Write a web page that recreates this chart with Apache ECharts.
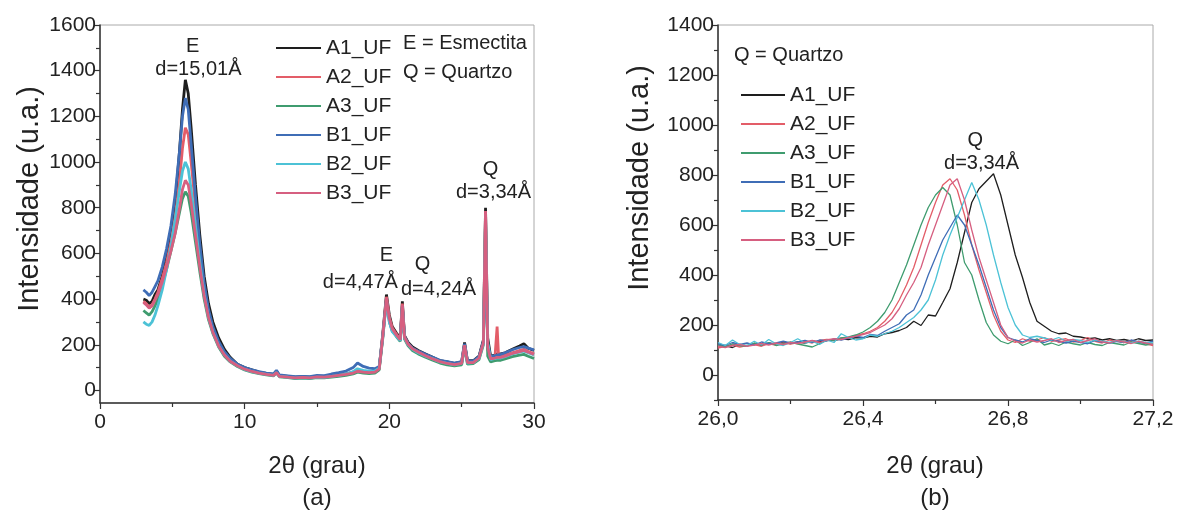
<!DOCTYPE html>
<html>
<head>
<meta charset="utf-8">
<script src="https://cdn.jsdelivr.net/npm/echarts@6/dist/echarts.min.js"></script>
<style>
  html, body { margin: 0; padding: 0; background: #fff; }
  #main { width: 1178px; height: 521px; }
</style>
</head>
<body>
<div id="main"></div>
<script>
// ---------- data (a): full pattern 3-30 grau ----------
var seriesNames = ['A1_UF', 'A2_UF', 'A3_UF', 'B1_UF', 'B2_UF', 'B3_UF'];

var thetaA = [3.0, 3.2, 3.4, 3.6, 3.8, 4.0, 4.3, 4.6, 4.9, 5.2, 5.5, 5.7, 5.9, 6.1, 6.3, 6.6, 6.9, 7.2, 7.5, 7.8,
  8.2, 8.6, 9.0, 9.5, 10.0, 10.5, 11.0, 11.5, 12.0, 12.2, 12.4, 13.0, 13.5, 14.0, 14.5, 15.0, 15.5, 16.0, 16.5, 17.0,
  17.5, 17.8, 18.2, 18.6, 19.0, 19.3, 19.55, 19.8, 20.0, 20.2, 20.5, 20.75, 20.9, 21.05, 21.3, 21.6, 22.0, 22.5, 23.0, 23.5,
  24.0, 24.5, 25.0, 25.2, 25.4, 25.8, 26.2, 26.5, 26.65, 26.8, 27.0, 27.3, 27.45, 27.55, 27.7, 28.0, 28.5, 29.0, 29.3, 29.6, 30.0];

var a1A = [400, 395, 380, 390, 420, 440, 500, 580, 680, 820, 1050, 1230, 1360, 1300, 1150, 900, 680, 500, 380, 300,
  230, 180, 145, 115, 100, 90, 80, 75, 70, 85, 65, 62, 58, 60, 58, 62, 60, 65, 68, 72,
  80, 90, 85, 82, 85, 100, 250, 420, 330, 280, 250, 230, 390, 240, 210, 190, 175, 160, 145, 130,
  125, 118, 125, 210, 130, 130, 150, 220, 800, 230, 150, 155, 160, 165, 160, 165, 180, 195, 205, 185, 175];
var a2A = [390, 380, 365, 375, 400, 430, 490, 560, 650, 760, 920, 1060, 1150, 1120, 1000, 800, 610, 450, 340, 270,
  205, 165, 135, 110, 95, 85, 78, 72, 68, 80, 64, 60, 56, 58, 55, 60, 58, 62, 65, 70,
  76, 85, 80, 78, 80, 95, 240, 410, 320, 275, 245, 225, 380, 235, 205, 185, 170, 155, 140, 128,
  120, 115, 120, 200, 125, 125, 145, 210, 785, 180, 140, 145, 280, 150, 148, 155, 165, 175, 180, 170, 160];
var a3A = [350, 340, 330, 345, 370, 400, 460, 530, 610, 690, 780, 840, 870, 850, 780, 650, 520, 400, 310, 250,
  190, 150, 125, 105, 90, 80, 74, 68, 64, 76, 60, 56, 52, 54, 52, 56, 55, 58, 62, 66,
  72, 80, 76, 74, 76, 90, 230, 400, 310, 265, 235, 215, 360, 225, 195, 175, 160, 145, 132, 120,
  112, 108, 112, 190, 115, 118, 135, 200, 750, 150, 125, 130, 132, 135, 132, 138, 148, 155, 158, 150, 140];
var b1A = [440, 430, 415, 430, 455, 480, 540, 620, 720, 860, 1050, 1200, 1280, 1230, 1080, 850, 640, 470, 355, 280,
  215, 170, 140, 115, 100, 90, 82, 76, 72, 88, 68, 64, 60, 62, 60, 66, 65, 72, 78, 85,
  100, 120, 105, 98, 95, 105, 240, 400, 300, 260, 240, 220, 370, 235, 205, 185, 172, 158, 145, 132,
  126, 120, 126, 205, 130, 128, 148, 215, 640, 200, 148, 152, 155, 160, 158, 165, 178, 188, 192, 185, 178];
var b2A = [300, 290, 285, 300, 330, 370, 440, 530, 630, 750, 880, 960, 1000, 970, 880, 720, 560, 420, 320, 255,
  195, 155, 128, 108, 92, 82, 76, 70, 66, 78, 62, 58, 54, 56, 54, 58, 57, 62, 66, 72,
  82, 95, 88, 84, 85, 98, 235, 390, 300, 258, 236, 218, 365, 230, 200, 180, 165, 150, 138, 125,
  118, 112, 118, 195, 120, 122, 140, 205, 770, 210, 135, 140, 142, 145, 142, 148, 160, 168, 172, 165, 155];
var b3A = [385, 375, 360, 370, 395, 420, 475, 540, 610, 690, 800, 880, 920, 900, 820, 680, 540, 415, 320, 255,
  195, 155, 128, 108, 93, 83, 76, 70, 66, 78, 62, 58, 55, 57, 55, 59, 58, 62, 66, 70,
  76, 84, 80, 78, 80, 94, 238, 405, 315, 270, 242, 222, 375, 232, 202, 182, 168, 152, 138, 126,
  118, 113, 118, 198, 122, 122, 142, 208, 785, 190, 138, 142, 145, 148, 145, 150, 162, 170, 175, 168, 158];

// ---------- data (b): quartz peak 26.0-27.2 grau ----------
var thetaB = [26.00, 26.02, 26.04, 26.06, 26.08, 26.10, 26.12, 26.14, 26.16, 26.18, 26.20, 26.22, 26.24, 26.26, 26.28,
  26.30, 26.32, 26.34, 26.36, 26.38, 26.40, 26.42, 26.44, 26.46, 26.48, 26.50, 26.52, 26.54, 26.56, 26.58,
  26.60, 26.62, 26.64, 26.66, 26.68, 26.70, 26.72, 26.74, 26.76, 26.78, 26.80, 26.82, 26.84, 26.86, 26.88,
  26.90, 26.92, 26.94, 26.96, 26.98, 27.00, 27.02, 27.04, 27.06, 27.08, 27.10, 27.12, 27.14, 27.16, 27.18, 27.20];

var a1B = [112, 118, 110, 122, 116, 125, 118, 128, 122, 130, 126, 132, 128, 136, 132,
  140, 138, 145, 142, 150, 148, 155, 152, 165, 170, 178, 190, 215, 198, 240,
  236, 290, 345, 450, 570, 690, 745, 775, 805, 720, 600, 480, 390, 290, 215,
  195, 175, 165, 168, 155, 152, 145, 148, 140, 145, 138, 142, 136, 145, 138, 140];
var a2B = [108, 115, 120, 112, 118, 122, 115, 125, 120, 128, 124, 130, 135, 128, 138,
  142, 140, 148, 150, 158, 165, 175, 190, 215, 250, 300, 360, 430, 520, 610,
  690, 760, 785, 740, 640, 520, 420, 330, 240, 175, 140, 130, 145, 135, 140,
  150, 135, 140, 145, 132, 138, 150, 135, 128, 140, 135, 130, 138, 132, 125, 118];
var a3B = [120, 112, 125, 118, 115, 128, 120, 130, 118, 125, 132, 124, 118, 112, 125,
  138, 140, 148, 152, 160, 172, 190, 215, 250, 300, 370, 440, 520, 600, 670,
  720, 750, 720, 600, 450, 400, 300, 210, 160, 135, 125, 140, 118, 130, 145,
  120, 128, 118, 132, 125, 120, 130, 122, 118, 130, 125, 120, 132, 126, 120, 125];
var b1B = [125, 118, 130, 122, 128, 120, 132, 125, 128, 135, 128, 132, 138, 130, 140,
  136, 145, 140, 148, 155, 150, 162, 158, 175, 190, 205, 240, 260, 320, 400,
  470, 540, 590, 640, 600, 520, 440, 350, 260, 190, 150, 140, 132, 145, 138,
  130, 140, 135, 128, 136, 130, 125, 138, 132, 128, 135, 130, 140, 132, 128, 135];
var b2B = [130, 118, 140, 122, 118, 135, 120, 142, 125, 118, 130, 145, 128, 135, 122,
  140, 130, 165, 150, 140, 145, 160, 155, 165, 175, 190, 210, 230, 260, 300,
  380, 480, 560, 630, 700, 770, 700, 600, 480, 370, 270, 200, 160, 150, 155,
  148, 140, 150, 135, 142, 138, 130, 140, 135, 130, 138, 132, 128, 135, 130, 128];
var b3B = [115, 110, 118, 122, 115, 120, 126, 120, 128, 122, 130, 126, 132, 138, 130,
  140, 145, 142, 150, 155, 162, 170, 185, 200, 225, 265, 320, 370, 430, 520,
  600, 680, 760, 785, 700, 580, 470, 380, 290, 200, 150, 135, 128, 140, 132,
  138, 145, 130, 138, 142, 130, 138, 145, 132, 128, 138, 132, 126, 135, 128, 122];

// ticks
var yTicksA = [0, 200, 400, 600, 800, 1000, 1200, 1400, 1600];
var yMinorA = [100, 300, 500, 700, 900, 1100, 1300, 1500];
var yTicksB = [0, 200, 400, 600, 800, 1000, 1200, 1400];
var yMinorB = [-100, 100, 300, 500, 700, 900, 1100, 1300];

// annotations [text, 2theta, intensidade]
var notesA = [
  ['E', 6.4, 1505], ['d=15,01Å', 6.8, 1404],
  ['E', 19.8, 589], ['d=4,47Å', 18.0, 473],
  ['Q', 22.3, 553], ['d=4,24Å', 23.4, 444],
  ['Q', 27.0, 967], ['d=3,34Å', 27.2, 865]
];
var notesB = [['Q', 26.71, 940], ['d=3,34Å', 26.727, 847]];

var colors = ['#1e1e1e', '#e35d68', '#3f9c6f', '#3f6db6', '#4cc2d6', '#d65f80'];
var FONT = '"Liberation Sans", Arial, sans-serif';

function pairs(xs, ys) {
  return xs.map(function (x, i) { return [x, ys[i]]; });
}

var dataA = [a1A, a2A, a3A, b1A, b2A, b3A];
var dataB = [a1B, a2B, a3B, b1B, b2B, b3B];

var myChart = echarts.init(document.getElementById('main'));

var series = [];
seriesNames.forEach(function (n, i) {
  series.push({
    name: n, type: 'line', xAxisIndex: 0, yAxisIndex: 0,
    data: pairs(thetaA, dataA[i]), symbol: 'none',
    lineStyle: { width: 2.8, color: colors[i] }, itemStyle: { color: colors[i] }
  });
});
seriesNames.forEach(function (n, i) {
  series.push({
    name: n, type: 'line', xAxisIndex: 1, yAxisIndex: 2,
    data: pairs(thetaB, dataB[i]), symbol: 'none',
    lineStyle: { width: 1.3, color: colors[i] }, itemStyle: { color: colors[i] }
  });
});

function xAxisOf(grid, min, max, interval, fmt) {
  return {
    type: 'value', gridIndex: grid, min: min, max: max, interval: interval,
    axisLine: { show: true, onZero: false, lineStyle: { color: '#333', width: 1.5 } },
    axisTick: { show: true, length: 6, lineStyle: { color: '#333', width: 1.2 } },
    minorTick: { show: true, splitNumber: 2, length: 4, lineStyle: { color: '#333', width: 1.2 } },
    splitLine: { show: false },
    axisLabel: { fontFamily: FONT, fontSize: 21, color: '#222', margin: 9, formatter: fmt }
  };
}

function yAxisOf(grid, min, max, ticks) {
  return {
    type: 'value', gridIndex: grid, position: 'left', min: min, max: max,
    axisLine: { show: true, onZero: false, lineStyle: { color: '#333', width: 1.5 } },
    axisTick: { show: true, length: 6, customValues: ticks, lineStyle: { color: '#333', width: 1.2 } },
    splitLine: { show: false },
    axisLabel: {
      customValues: ticks, fontFamily: FONT, fontSize: 21, color: '#222', margin: 4,
      formatter: function (v) { return String(v); }
    }
  };
}
function yMinorOf(grid, min, max, ticks) {
  return {
    type: 'value', gridIndex: grid, position: 'left', min: min, max: max,
    axisLine: { show: false },
    axisTick: { show: true, length: 4, customValues: ticks, lineStyle: { color: '#333', width: 1.2 } },
    splitLine: { show: false },
    axisLabel: { show: false, customValues: ticks }
  };
}

function legendOf(left, top, w) {
  return {
    data: seriesNames, left: left, top: top, orient: 'vertical',
    icon: 'rect', itemWidth: w, itemHeight: 2, itemGap: 8,
    textStyle: { fontFamily: FONT, fontSize: 21, color: '#222', lineHeight: 21 },
    selectedMode: false
  };
}

myChart.setOption({
  animation: false,
  backgroundColor: '#fff',
  color: colors,
  grid: [
    { left: 100, top: 25, width: 434, height: 378, show: true, borderColor: '#aaa', borderWidth: 1 },
    { left: 718, top: 25, width: 435, height: 375, show: true, borderColor: '#aaa', borderWidth: 1 }
  ],
  xAxis: [
    xAxisOf(0, 0, 30, 10, function (v) { return String(Math.round(v)); }),
    xAxisOf(1, 26, 27.2, 0.4, function (v) { return v.toFixed(1).replace('.', ','); })
  ],
  yAxis: [
    yAxisOf(0, -55, 1600, yTicksA),
    yMinorOf(0, -55, 1600, yMinorA),
    yAxisOf(1, -100, 1400, yTicksB),
    yMinorOf(1, -100, 1400, yMinorB)
  ],
  legend: [legendOf(271, 32.5, 45), legendOf(736, 79.5, 44)],
  series: series
});

// annotation texts placed in data coordinates
var g = [];
function txt(t, x, y, size, align, rot) {
  g.push({
    type: 'text', x: x, y: y, rotation: rot || 0, silent: true,
    style: { text: t, font: size + 'px ' + FONT, fill: '#222', align: align || 'center', verticalAlign: 'middle' }
  });
}
notesA.forEach(function (n) {
  var p = myChart.convertToPixel({ gridIndex: 0 }, [n[1], n[2]]);
  txt(n[0], p[0], p[1], 20);
});
notesB.forEach(function (n) {
  var p = myChart.convertToPixel({ gridIndex: 1 }, [n[1], n[2]]);
  txt(n[0], p[0], p[1], 20);
});
txt('E = Esmectita', 403, 43, 20, 'left');
txt('Q = Quartzo', 403, 72, 20, 'left');
txt('Q = Quartzo', 734, 55, 20, 'left');

txt('Intensidade (u.a.)', 30, 199, 29, 'center', Math.PI / 2);
txt('Intensidade (u.a.)', 640, 178, 29, 'center', Math.PI / 2);
txt('2θ (grau)', 317, 466, 24);
txt('(a)', 317, 498, 24);
txt('2θ (grau)', 935, 466, 24);
txt('(b)', 935, 498, 24);

myChart.setOption({ graphic: g });
</script>
</body>
</html>
